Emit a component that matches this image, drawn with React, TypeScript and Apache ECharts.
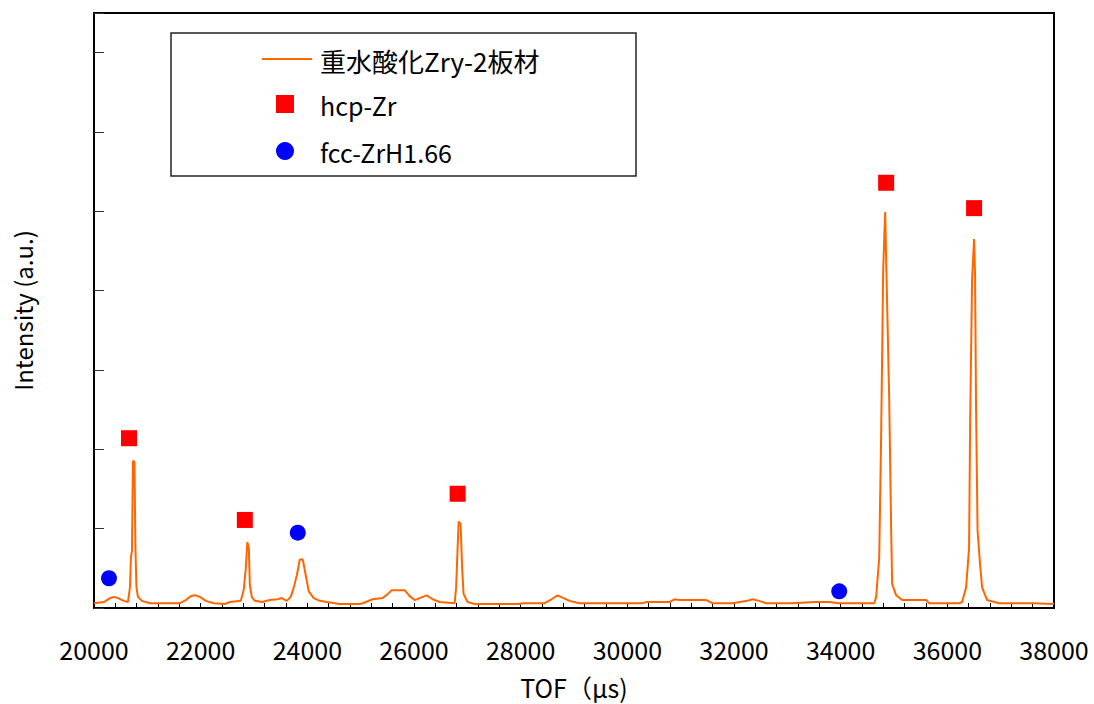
import React, { useEffect, useRef } from "react";
import * as echarts from "echarts";

const spectrumTof = [
  20000, 20187, 20300, 20375, 20450, 20562, 20637, 20674, 20693, 20712, 20730, 20758, 20777, 20796, 20824, 20899,
  21049, 21611, 21723, 21817, 21892, 21985, 22098, 22248, 22454, 22547, 22753, 22810, 22847, 22875, 22903, 22922,
  22959, 23016, 23147, 23297, 23446, 23521, 23615, 23690, 23746, 23802, 23858, 23915, 23971, 24027, 24121, 24233,
  24364, 24608, 24983, 25039, 25226, 25413, 25507, 25582, 25825, 25919, 26013, 26106, 26237, 26350, 26481, 26762,
  26790, 26818, 26837, 26874, 26902, 26930, 27005, 27137, 27980, 28036, 28448, 28579, 28691, 28804, 28916, 29103,
  29347, 30283, 30358, 30789, 30883, 30977, 31482, 31594, 31969, 32250, 32344, 32475, 32606, 33093, 33505, 33786,
  33973, 34348, 34629, 34666, 34723, 34760, 34797, 34835, 34854, 34910, 34947, 34966, 35041, 35153, 35603, 35659,
  36221, 36277, 36352, 36408, 36427, 36464, 36502, 36520, 36539, 36567, 36614, 36652, 36745, 36970, 37588, 38000,
];
const spectrumIntensity = [
  0.06, 0.075, 0.125, 0.14, 0.125, 0.09, 0.075, 0.26, 0.64, 0.72, 1.85, 1.85, 0.76, 0.26, 0.14, 0.09,
  0.06, 0.06, 0.1, 0.15, 0.16, 0.14, 0.09, 0.06, 0.05, 0.075, 0.09, 0.24, 0.51, 0.83, 0.76, 0.29,
  0.14, 0.09, 0.075, 0.1, 0.11, 0.125, 0.09, 0.14, 0.26, 0.41, 0.61, 0.61, 0.41, 0.21, 0.125, 0.09,
  0.075, 0.05, 0.05, 0.06, 0.11, 0.125, 0.175, 0.225, 0.225, 0.15, 0.1, 0.125, 0.16, 0.11, 0.075, 0.06,
  0.26, 0.76, 1.09, 1.06, 0.51, 0.175, 0.075, 0.05, 0.05, 0.06, 0.06, 0.11, 0.16, 0.125, 0.09, 0.06,
  0.06, 0.06, 0.075, 0.075, 0.11, 0.1, 0.1, 0.06, 0.06, 0.09, 0.11, 0.09, 0.06, 0.06, 0.075, 0.075,
  0.06, 0.06, 0.06, 0.14, 0.64, 2.22, 4.26, 4.99, 4.36, 2.64, 0.97, 0.3, 0.16, 0.1, 0.1, 0.06,
  0.06, 0.075, 0.26, 0.76, 2.3, 4.14, 4.65, 4.19, 2.5, 0.97, 0.55, 0.26, 0.1, 0.06, 0.06, 0.05,
];

const hcpTof = [20656, 22828, 26818, 34853, 36502];
const hcpIntensity = [2.14, 1.11, 1.44, 5.36, 5.04];

const fccTof = [20281, 23821, 33973];
const fccIntensity = [0.375, 0.95, 0.21];

const seriesNames = ["重水酸化Zry-2板材", "hcp-Zr", "fcc-ZrH1.66"];
const xAxisTitle = "TOF（μs)";
const yAxisTitle = "Intensity (a.u.)";

const FONT = "'Noto Sans CJK JP', 'Noto Sans', sans-serif";
const ORANGE = "#FF6600";
const RED = "#FF0000";
const BLUE = "#0000FF";

export default function App() {
  const ref = useRef<HTMLDivElement>(null);

  useEffect(() => {
    if (!ref.current) return;
    const chart = echarts.init(ref.current, undefined, { renderer: "svg" });
    const lineData = spectrumTof.map((x, i) => [x, spectrumIntensity[i]]);
    const hcpData = hcpTof.map((x, i) => [x, hcpIntensity[i]]);
    const fccData = fccTof.map((x, i) => [x, fccIntensity[i]]);

    chart.setOption({
      animation: false,
      backgroundColor: "#ffffff",
      grid: {
        left: 94,
        right: 40,
        top: 13,
        bottom: 93,
        show: true,
        borderColor: "#000",
        borderWidth: 2,
        containLabel: false,
      },
      xAxis: {
        type: "value",
        min: 20000,
        max: 38000,
        interval: 400,
        name: xAxisTitle,
        nameLocation: "middle",
        nameGap: 66,
        nameTextStyle: { fontSize: 25, color: "#000", fontFamily: FONT },
        axisLine: { show: true, lineStyle: { color: "#000", width: 2 } },
        axisTick: { show: true, inside: true, length: 5, lineStyle: { color: "#000", width: 1 } },
        splitLine: { show: false },
        axisLabel: {
          fontSize: 25,
          color: "#000",
          fontFamily: FONT,
          margin: 28,
          hideOverlap: false,
          showMinLabel: true,
          showMaxLabel: true,
          interval: 0,
          formatter: (v: number) => (Math.round(v) % 2000 === 0 ? String(Math.round(v)) : ""),
        },
      },
      yAxis: {
        type: "value",
        min: 0,
        max: 7.5,
        interval: 1,
        name: yAxisTitle,
        nameLocation: "middle",
        nameGap: 60,
        nameRotate: 90,
        nameTextStyle: { fontSize: 24, color: "#000", fontFamily: FONT },
        axisLine: { show: true, lineStyle: { color: "#000", width: 2 } },
        axisTick: { show: true, inside: true, length: 10, lineStyle: { color: "#333", width: 1 } },
        axisLabel: { show: false },
        splitLine: { show: false },
      },
      graphic: [
        {
          type: "rect",
          shape: { x: 171, y: 33, width: 465, height: 143 },
          style: { fill: "#fff", stroke: "#222", lineWidth: 1.5 },
          z: 10,
        },
        {
          type: "line",
          shape: { x1: 262, y1: 59, x2: 312, y2: 59 },
          style: { stroke: ORANGE, lineWidth: 2 },
          z: 11,
        },
        {
          type: "text",
          x: 320,
          y: 60,
          style: { text: seriesNames[0], fontSize: 26, fontFamily: FONT, fill: "#000", verticalAlign: "middle" },
          z: 11,
        },
        {
          type: "rect",
          shape: { x: 276, y: 95, width: 18, height: 18 },
          style: { fill: RED },
          z: 11,
        },
        {
          type: "text",
          x: 320,
          y: 105,
          style: { text: seriesNames[1], fontSize: 25, fontFamily: FONT, fill: "#000", verticalAlign: "middle" },
          z: 11,
        },
        {
          type: "circle",
          shape: { cx: 285, cy: 151, r: 9 },
          style: { fill: BLUE },
          z: 11,
        },
        {
          type: "text",
          x: 320,
          y: 152,
          style: { text: seriesNames[2], fontSize: 25, fontFamily: FONT, fill: "#000", verticalAlign: "middle" },
          z: 11,
        },
      ],
      series: [
        {
          name: seriesNames[0],
          type: "line",
          data: lineData,
          showSymbol: false,
          symbol: "none",
          lineStyle: { color: ORANGE, width: 2 },
          z: 2,
        },
        {
          name: seriesNames[1],
          type: "scatter",
          data: hcpData,
          symbol: "rect",
          symbolSize: 16,
          itemStyle: { color: RED, opacity: 1 },
          z: 3,
        },
        {
          name: seriesNames[2],
          type: "scatter",
          data: fccData,
          symbol: "circle",
          symbolSize: 16,
          itemStyle: { color: BLUE, opacity: 1 },
          z: 3,
        },
      ],
    });

    return () => {
      chart.dispose();
    };
  }, []);

  return (
    <div
      ref={ref}
      style={{ position: "fixed", left: 0, top: 0, width: 1094, height: 704, background: "#fff" }}
    />
  );
}
